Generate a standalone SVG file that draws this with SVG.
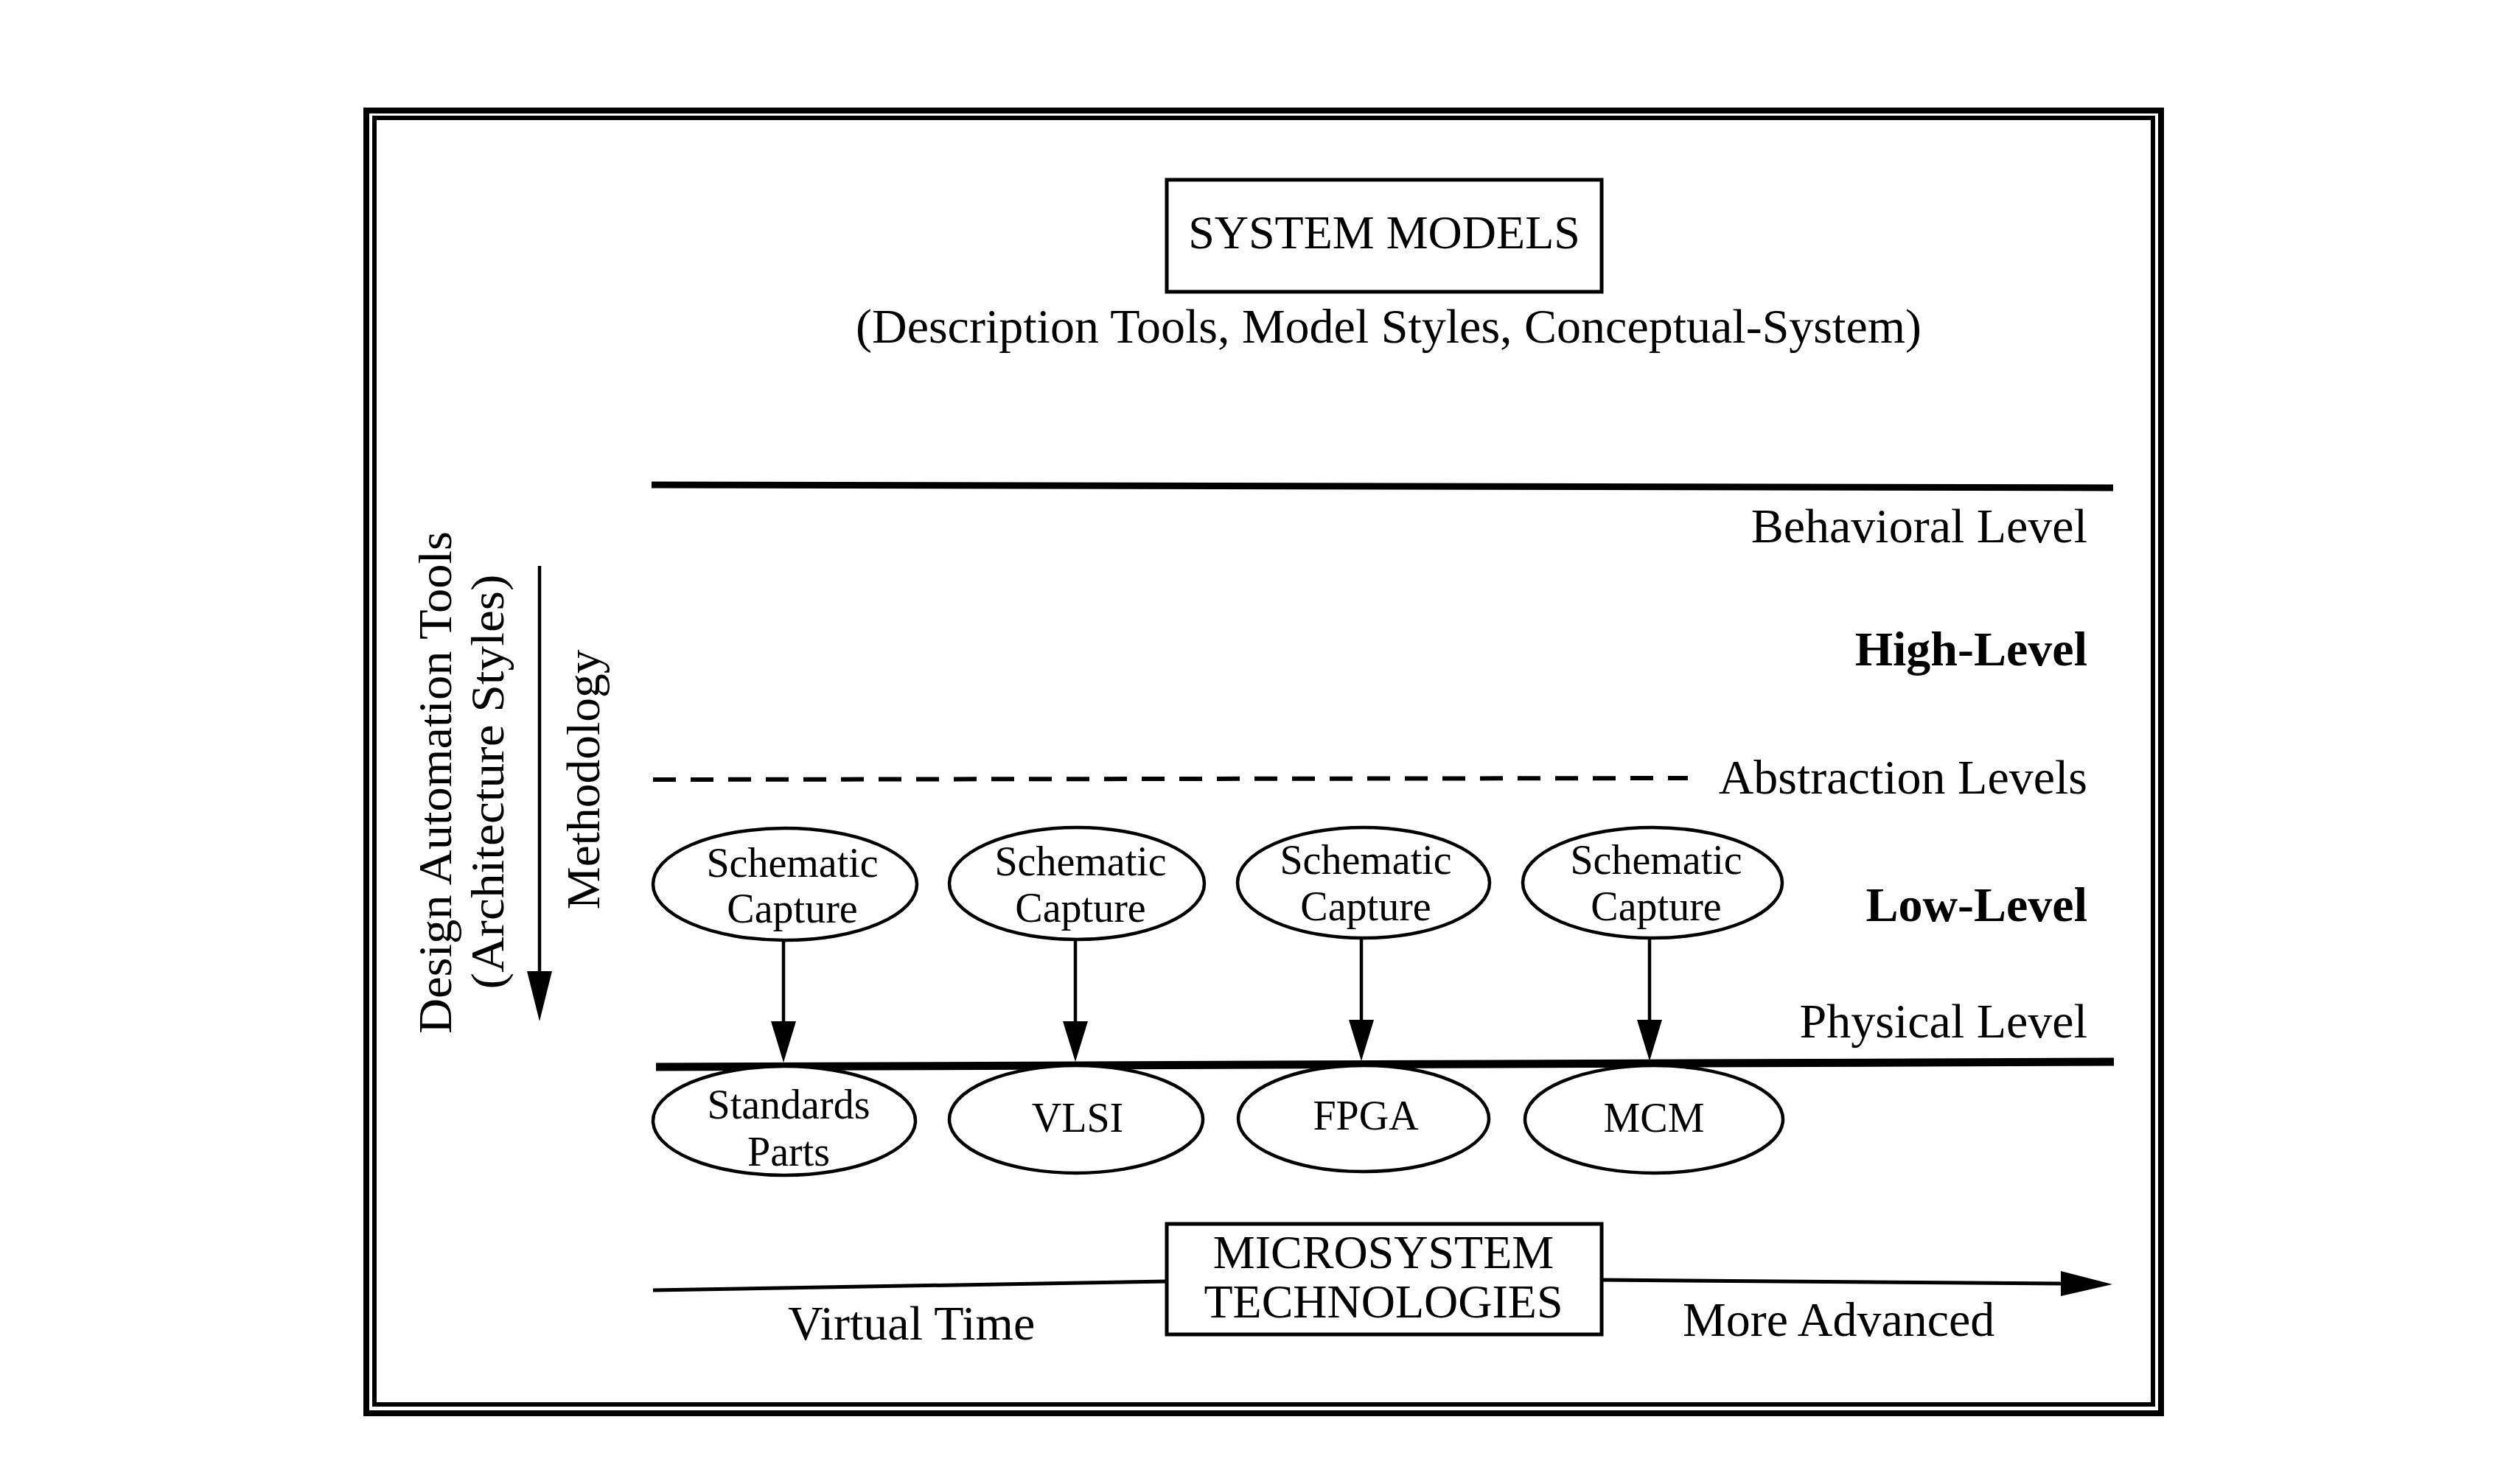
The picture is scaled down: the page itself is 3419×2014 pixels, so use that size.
<svg xmlns="http://www.w3.org/2000/svg" width="3419" height="2014" viewBox="0 0 3419 2014">
<style>
  text { font-family: "Liberation Serif", "Times New Roman", serif; fill: #000; }
  .lbl { font-size: 66px; }
  .rt { font-size: 66px; text-anchor: end; }
  .bold { font-weight: bold; }
  .node { font-size: 56px; text-anchor: middle; }
  .mid { text-anchor: middle; }
  .ell { fill: #fff; stroke: #000; stroke-width: 4.5; }
  .box { fill: #fff; stroke: #000; stroke-width: 5; }
  .ln { stroke: #000; fill: none; }
</style>
<rect width="3419" height="2014" fill="#fff"/>

<g id="frame">
  <rect x="497" y="150" width="2435" height="1768" fill="none" stroke="#000" stroke-width="8"/>
  <rect x="508" y="160" width="2413" height="1746" fill="none" stroke="#000" stroke-width="6"/>
</g>

<g id="system-models">
  <rect class="box" x="1583" y="244" width="590" height="152"/>
  <text class="mid" x="1878" y="337" font-size="64">SYSTEM MODELS</text>
  <text class="mid" x="1884" y="465" font-size="66">(Description Tools, Model Styles, Conceptual-System)</text>
</g>

<g id="side-labels">
  <text class="mid" font-size="64" transform="translate(612,1062) rotate(-90)" textLength="682" lengthAdjust="spacingAndGlyphs">Design Automation Tools</text>
  <text class="mid" font-size="64" transform="translate(683,1061) rotate(-90)" textLength="563" lengthAdjust="spacingAndGlyphs">(Architecture Styles)</text>
  <text class="mid" font-size="64" transform="translate(813,1058) rotate(-90)" textLength="353" lengthAdjust="spacingAndGlyphs">Methodology</text>
</g>

<g id="level-labels">
  <text class="rt" x="2832" y="736">Behavioral Level</text>
  <text class="rt bold" x="2832" y="903" font-size="67">High-Level</text>
  <text class="rt" x="2832" y="1077">Abstraction Levels</text>
  <text class="rt bold" x="2832" y="1250">Low-Level</text>
  <text class="rt" x="2832" y="1408">Physical Level</text>
</g>

<g id="connectors">
  <line class="ln" x1="884" y1="658" x2="2867" y2="662" stroke-width="9"/>
  <line class="ln" x1="886" y1="1058" x2="2290" y2="1056" stroke-width="6" stroke-dasharray="31 20"/>
  <line class="ln" x1="890" y1="1448" x2="2868" y2="1441" stroke-width="11"/>
  <line class="ln" x1="732" y1="768" x2="732" y2="1322" stroke-width="4.5"/>
  <polygon points="715,1318 749,1318 732,1386" fill="#000"/>
  <line class="ln" x1="1063" y1="1276" x2="1063" y2="1390" stroke-width="4.5"/>
  <polygon points="1046,1386 1080,1386 1063,1442" fill="#000"/>
  <line class="ln" x1="1459" y1="1276" x2="1459" y2="1390" stroke-width="4.5"/>
  <polygon points="1442,1386 1476,1386 1459,1441" fill="#000"/>
  <line class="ln" x1="1847" y1="1274" x2="1847" y2="1388" stroke-width="4.5"/>
  <polygon points="1830,1384 1864,1384 1847,1440" fill="#000"/>
  <line class="ln" x1="2238" y1="1274" x2="2238" y2="1388" stroke-width="4.5"/>
  <polygon points="2221,1384 2255,1384 2238,1440" fill="#000"/>
  <line class="ln" x1="886" y1="1751" x2="1583" y2="1739" stroke-width="5"/>
  <line class="ln" x1="2173" y1="1737" x2="2800" y2="1742" stroke-width="5"/>
  <polygon points="2796,1725 2796,1759 2866,1743" fill="#000"/>
</g>

<g id="sc1">
  <ellipse class="ell" cx="1065" cy="1200" rx="179" ry="76"/>
  <text class="node" x="1075" y="1190">Schematic</text>
  <text class="node" x="1075" y="1252">Capture</text>
</g>
<g id="sc2">
  <ellipse class="ell" cx="1461" cy="1199" rx="173" ry="76"/>
  <text class="node" x="1466" y="1188">Schematic</text>
  <text class="node" x="1466" y="1251">Capture</text>
</g>
<g id="sc3">
  <ellipse class="ell" cx="1850" cy="1198" rx="171" ry="75"/>
  <text class="node" x="1853" y="1186">Schematic</text>
  <text class="node" x="1853" y="1249">Capture</text>
</g>
<g id="sc4">
  <ellipse class="ell" cx="2242" cy="1198" rx="176" ry="75"/>
  <text class="node" x="2247" y="1186">Schematic</text>
  <text class="node" x="2247" y="1249">Capture</text>
</g>

<g id="standards">
  <ellipse class="ell" cx="1064" cy="1521" rx="178" ry="74"/>
  <text class="node" x="1070" y="1518">Standards</text>
  <text class="node" x="1070" y="1582">Parts</text>
</g>
<g id="vlsi">
  <ellipse class="ell" cx="1460" cy="1519" rx="172" ry="73"/>
  <text class="node" x="1462" y="1536">VLSI</text>
</g>
<g id="fpga">
  <ellipse class="ell" cx="1850" cy="1518" rx="170" ry="72"/>
  <text class="node" x="1853" y="1533">FPGA</text>
</g>
<g id="mcm">
  <ellipse class="ell" cx="2244" cy="1519" rx="175" ry="73"/>
  <text class="node" x="2244" y="1536">MCM</text>
</g>

<g id="microsystem">
  <rect class="box" x="1583" y="1661" width="590" height="150"/>
  <text class="mid" x="1877" y="1721" font-size="64">MICROSYSTEM</text>
  <text class="mid" x="1877" y="1788" font-size="64">TECHNOLOGIES</text>
</g>

<g id="axis-labels">
  <text class="lbl" x="1069" y="1818">Virtual Time</text>
  <text class="lbl" x="2283" y="1813">More Advanced</text>
</g>
</svg>
